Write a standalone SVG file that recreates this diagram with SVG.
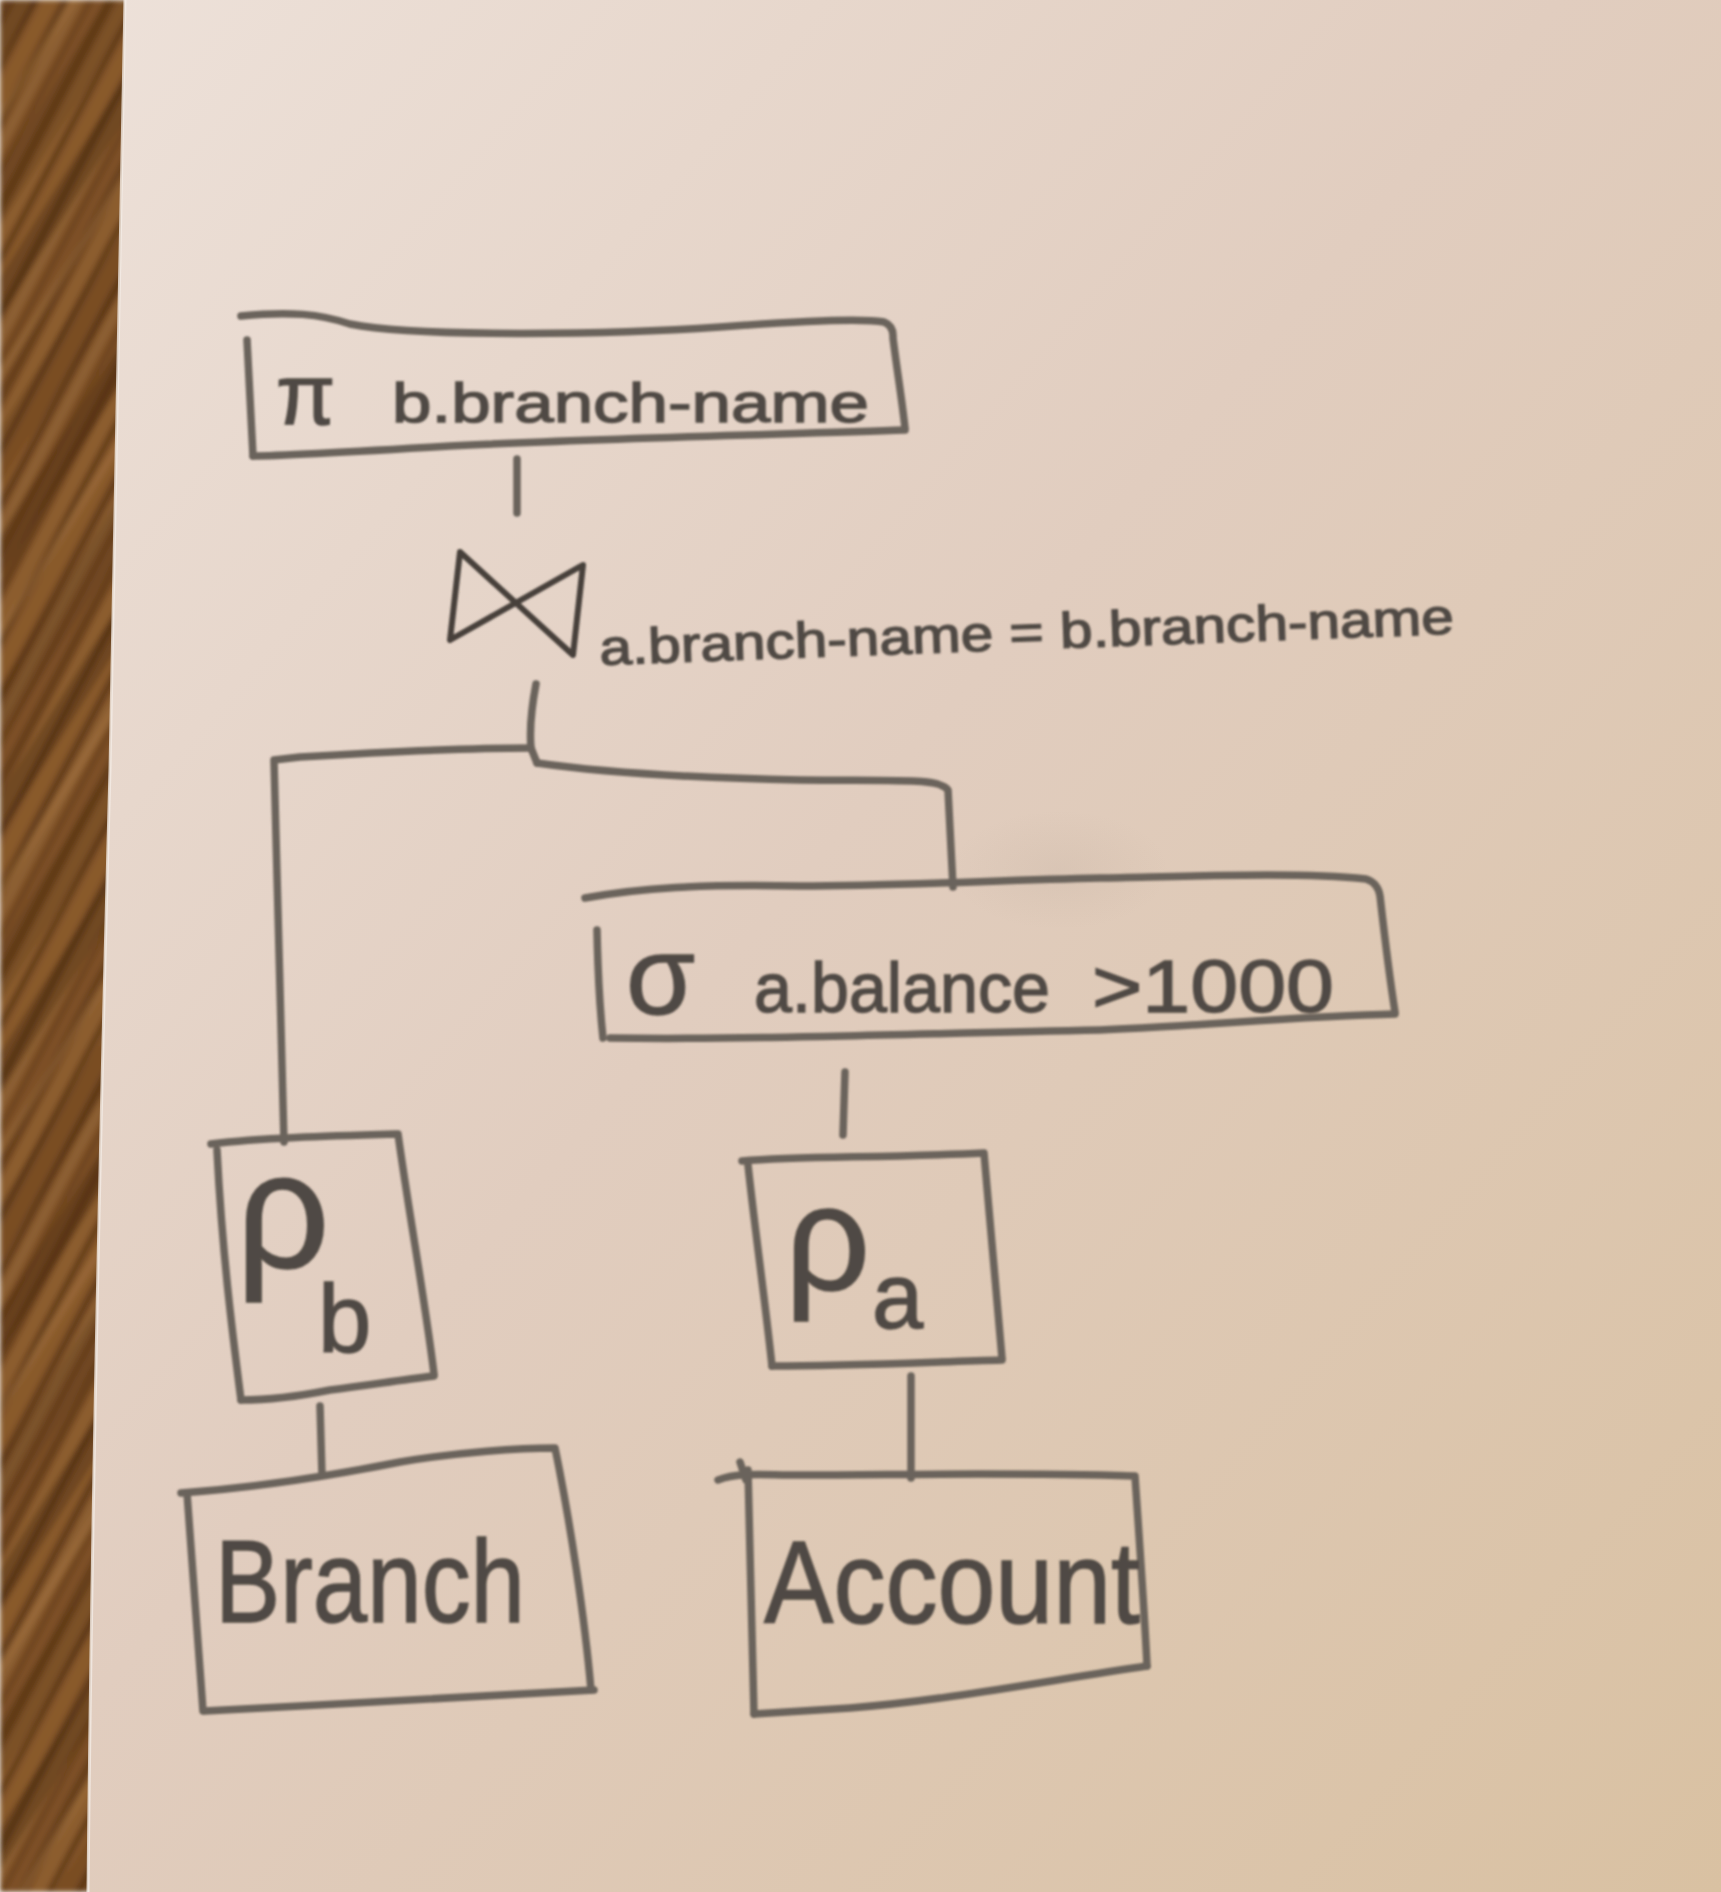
<svg xmlns="http://www.w3.org/2000/svg" width="1721" height="1892" viewBox="0 0 1721 1892">
  <defs>
    <linearGradient id="paper" x1="0" y1="0" x2="1" y2="1">
      <stop offset="0" stop-color="#ede1d9"/>
      <stop offset="0.45" stop-color="#e1cdbf"/>
      <stop offset="1" stop-color="#d9c1a2"/>
    </linearGradient>
    <radialGradient id="smudge" cx="0.5" cy="0.5" r="0.5">
      <stop offset="0" stop-color="#8a7a6c" stop-opacity="0.08"/>
      <stop offset="1" stop-color="#8a7a6c" stop-opacity="0"/>
    </radialGradient>
    <!-- wood grain: two overlaid stripe sets with different periods -->
    <pattern id="grain" patternUnits="userSpaceOnUse" width="400" height="90" patternTransform="rotate(-62)">
      <rect width="400" height="90" fill="#7d5026"/>
      <rect y="3" width="400" height="9" fill="#5a3514" opacity="0.6"/>
      <rect y="15" width="400" height="12" fill="#9c6a36" opacity="0.5"/>
      <rect y="30" width="400" height="4" fill="#40230c" opacity="0.5"/>
      <rect y="38" width="400" height="14" fill="#93622f" opacity="0.55"/>
      <rect y="55" width="400" height="6" fill="#4e2d10" opacity="0.55"/>
      <rect y="64" width="400" height="10" fill="#a97a45" opacity="0.35"/>
      <rect y="78" width="400" height="5" fill="#633a16" opacity="0.55"/>
    </pattern>
    <pattern id="grain2" patternUnits="userSpaceOnUse" width="400" height="137" patternTransform="rotate(-58)">
      <rect y="10" width="400" height="22" fill="#3f230b" opacity="0.35"/>
      <rect y="58" width="400" height="8" fill="#b0804a" opacity="0.3"/>
      <rect y="90" width="400" height="30" fill="#4a2a0f" opacity="0.25"/>
    </pattern>
    <filter id="soft" x="-5%" y="-5%" width="110%" height="110%">
      <feGaussianBlur stdDeviation="0.8"/>
    </filter>
    <filter id="woodblur" x="0" y="0" width="100%" height="100%">
      <feGaussianBlur stdDeviation="2.5"/>
    </filter>
    <style>
      .pen { fill: none; stroke: #6b635b; stroke-width: 7.5; stroke-linecap: round; stroke-linejoin: round; }
      .ink { fill: #504a44; stroke: #504a44; stroke-width: 1.4; font-family: "Liberation Sans", "DejaVu Sans", sans-serif; }
      .sym { fill: none; stroke: #46403b; stroke-width: 6; stroke-linejoin: round; stroke-linecap: round; }
    </style>
  </defs>

  <!-- table and sheet of paper -->
  <g filter="url(#woodblur)">
    <rect x="0" y="0" width="160" height="1892" fill="url(#grain)"/>
    <rect x="0" y="0" width="160" height="1892" fill="url(#grain2)"/>
  </g>
  <path d="M125,0 L1721,0 L1721,1892 L88,1892 C92,1500 101,1100 110,770 C115,500 122,200 125,0 Z" fill="url(#paper)"/>
  <path d="M125,0 C122,200 115,500 110,770 C101,1100 92,1500 88,1892" fill="none" stroke="#f4ece6" stroke-width="3" opacity="0.8"/>
  <ellipse cx="1060" cy="870" rx="110" ry="60" fill="url(#smudge)"/>

  <g filter="url(#soft)">
    <!-- projection on b.branch-name -->
    <g id="node-project">
      <path class="pen" d="M241,316 C290,311 320,314 350,324 C420,338 620,334 720,327 C800,321 860,318 884,322 Q894,326 893,338 C897,370 902,400 905,428"/>
      <path class="pen" d="M905,430 C800,434 600,438 450,446 C350,452 280,456 253,456"/>
      <path class="pen" d="M247,340 C249,380 251,420 253,456"/>
      <text class="ink" x="276" y="424" font-size="86">π</text>
      <text class="ink" x="392" y="422" font-size="56" textLength="477" lengthAdjust="spacingAndGlyphs">b.branch-name</text>
    </g>

    <!-- natural join with its condition -->
    <g id="node-join">
      <path class="sym" d="M460,552 L573,655 L583,565 L450,640 Z"/>
      <text class="ink" x="600" y="665" font-size="50" textLength="855" lengthAdjust="spacingAndGlyphs" transform="rotate(-2.1 600 665)">a.branch-name = b.branch-name</text>
    </g>

    <!-- selection a.balance > 1000 -->
    <g id="node-select">
      <path class="pen" d="M585,898 C640,888 700,884 800,886 C900,886 1000,880 1100,878 C1200,876 1300,872 1366,879 Q1378,883 1380,896 C1385,940 1390,980 1395,1012"/>
      <path class="pen" d="M1395,1014 C1300,1016 1200,1026 1100,1030 C900,1034 750,1040 610,1038"/>
      <path class="pen" d="M597,930 C598,980 600,1010 603,1038"/>
      <text class="ink" x="626" y="1014" font-size="112">σ</text>
      <text class="ink" x="754" y="1012" font-size="70" textLength="296" lengthAdjust="spacingAndGlyphs">a.balance</text>
      <text class="ink" x="1092" y="1012" font-size="74" textLength="242" lengthAdjust="spacingAndGlyphs">&gt;1000</text>
    </g>

    <!-- rename to b -->
    <g id="node-rho-b">
      <path class="pen" d="M211,1144 C260,1138 330,1136 398,1134 C410,1220 425,1300 434,1374"/>
      <path class="pen" d="M434,1376 C400,1380 370,1385 330,1390 C290,1398 260,1400 241,1400"/>
      <path class="pen" d="M217,1150 C222,1250 232,1330 241,1400"/>
      <text class="ink" x="236" y="1268" font-size="165">ρ</text>
      <text class="ink" x="318" y="1352" font-size="96">b</text>
    </g>

    <!-- base relation Branch -->
    <g id="node-branch">
      <path class="pen" d="M181,1493 C250,1488 320,1478 400,1462 C460,1452 520,1448 555,1448 C570,1520 585,1620 591,1690"/>
      <path class="pen" d="M594,1690 C500,1695 400,1700 300,1706 L205,1711"/>
      <path class="pen" d="M187,1493 C192,1570 198,1640 203,1711"/>
      <text class="ink" x="215" y="1622" font-size="116" textLength="310" lengthAdjust="spacingAndGlyphs">Branch</text>
    </g>

    <!-- rename to a -->
    <g id="node-rho-a">
      <path class="pen" d="M742,1161 C800,1156 880,1158 984,1153 C990,1220 996,1290 1002,1358"/>
      <path class="pen" d="M1002,1360 C930,1362 850,1366 772,1366"/>
      <path class="pen" d="M748,1165 C755,1230 765,1300 772,1366"/>
      <text class="ink" x="785" y="1290" font-size="150">ρ</text>
      <text class="ink" x="872" y="1328" font-size="92">a</text>
    </g>

    <!-- base relation Account -->
    <g id="node-account">
      <path class="pen" d="M718,1480 C740,1472 760,1475 800,1475 C900,1475 1000,1472 1135,1476 C1140,1550 1145,1620 1147,1666"/>
      <path class="pen" d="M740,1462 L746,1480"/>
      <path class="pen" d="M1147,1666 C1050,1680 950,1700 850,1708 L754,1714"/>
      <path class="pen" d="M748,1470 C750,1550 752,1640 754,1714"/>
      <text class="ink" x="764" y="1623" font-size="116" textLength="376" lengthAdjust="spacingAndGlyphs">Account</text>
    </g>

    <!-- tree edges -->
    <g id="connectors">
      <path class="pen" d="M517,459 L517,513"/>
      <path class="pen" d="M536,684 C532,705 529,725 531,748 L537,763"/>
      <path class="pen" d="M531,748 C450,748 350,754 300,757 L274,760 C276,880 280,1010 284,1142"/>
      <path class="pen" d="M537,763 C600,772 700,778 800,780 C900,781 940,778 948,790 L953,887"/>
      <path class="pen" d="M845,1072 L843,1135"/>
      <path class="pen" d="M320,1406 L322,1475"/>
      <path class="pen" d="M911,1376 L911,1478"/>
    </g>
  </g>
</svg>
